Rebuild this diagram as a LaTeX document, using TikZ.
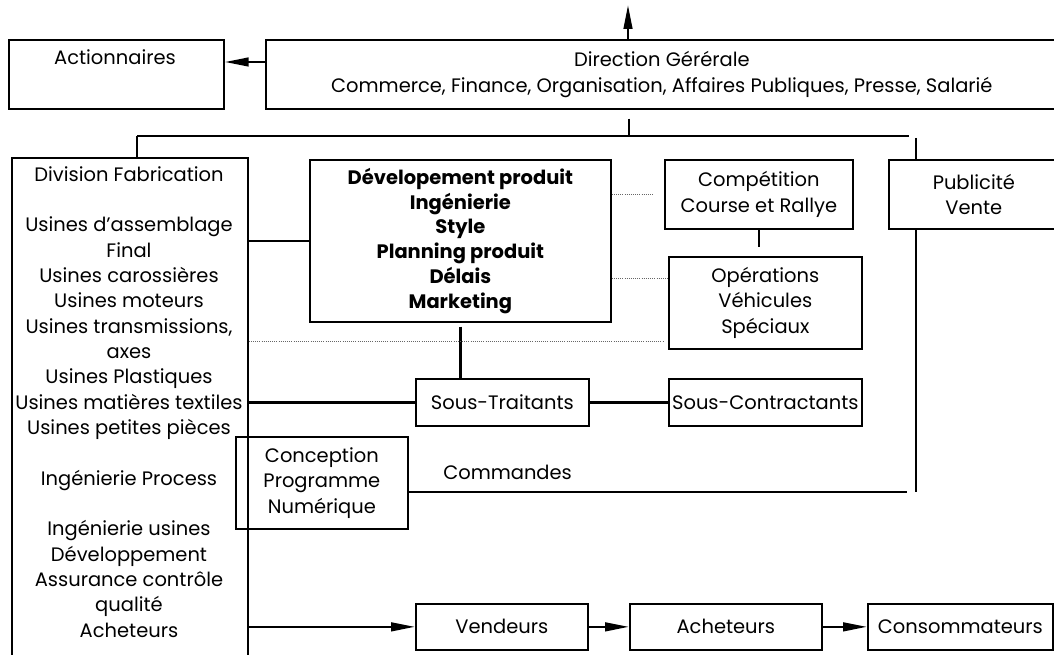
\documentclass[tikz,border=0pt]{standalone}
\usepackage{fontspec}
\setmainfont{Poppins}
\usetikzlibrary{arrows.meta}

\tikzset{
  box/.style={draw, line width=1.3pt, inner sep=0pt, align=center, anchor=north west},
  sz/.style 2 args={minimum width=#1*0.75pt, minimum height=#2*0.75pt},
  wire/.style={line width=1.8pt},
  dots/.style={densely dotted, line width=0.6pt, black!60},
  arr/.style={-{Triangle[length=18pt,width=6.5pt]}}
}

\begin{document}
\begin{tikzpicture}[x=0.75pt, y=-0.75pt, font=\fontsize{14.6}{19}\selectfont]
\useasboundingbox (0,0) rectangle (1054,655);

\node[box, sz={215}{69}] (act) at (8,39) {};
\node (acttxt) at (115,57) {Actionnaires};
\node[box, sz={792}{69}] (dg) at (265,39) {Direction Gérérale\\Commerce, Finance, Organisation, Affaires Publiques, Presse, Salarié};
\node[box, sz={236}{520}] (div) at (11,157) {};
\node[align=center, anchor=north, inner sep=0pt] (divtxt) at (129,166) {Division Fabrication\\[19pt]Usines d'assemblage\\Final\\Usines carossières\\Usines moteurs\\Usines transmissions,\\axes\\Usines Plastiques\\Usines matières textiles\\Usines petites pièces\\[19pt]Ingénierie Process\\[19pt]Ingénierie usines\\Développement\\Assurance contrôle\\qualité\\Acheteurs};
\node[box, sz={301}{162}, font=\fontsize{14.6}{18.6}\selectfont\bfseries] (dev) at (309,159) {Dévelopement produit\\Ingénierie\\Style\\Planning produit\\Délais\\Marketing};
\node[box, sz={188}{69}] (comp) at (664,159) {Compétition\\Course et Rallye};
\node[box, sz={193}{92}] (ops) at (668,256) {Opérations\\Véhicules\\Spéciaux};
\node[box, sz={170}{69}] (pub) at (888,159) {Publicité\\Vente};
\node[box, sz={173}{47}] (sout) at (415,378) {Sous-Traitants};
\node[box, sz={193}{47}] (souc) at (668,378) {Sous-Contractants};
\node[box, sz={172}{92}] (conc) at (235,436) {Conception\\Programme\\Numérique};
\node[anchor=west, inner sep=0pt] (cmd) at (443,472) {Commandes};
\node[box, sz={172}{46}] (vend) at (415,603) {Vendeurs};
\node[box, sz={192}{46}] (ach) at (629,603) {Acheteurs};
\node[box, sz={185}{46}] (cons) at (867,603) {Consommateurs};

\coordinate (up) at (628,5);
\coordinate (a1) at (265,62);
\coordinate (hub) at (629,136);
\coordinate (lft) at (137,136);
\coordinate (rgt) at (909,136);
\coordinate (pubtop) at (916,136);
\coordinate (stub) at (754,247);
\coordinate (d2) at (668,278);
\coordinate (d3) at (663,341);
\coordinate (cmdend) at (916,492);

\draw[wire, arr] (dg.north -| up) -- (up);
\draw[wire, arr] (a1) -- (act.east |- a1);
\draw[wire, shorten <=6.75pt] (dg.south -| hub) -- (hub);
\draw[wire] (lft) -- (rgt);
\draw[wire] (lft) -- (div.north -| lft);
\draw[wire, shorten <=1.5pt] (pubtop) -- (pub.north -| pubtop);
\draw[wire] (pub.south -| pubtop) -- (cmdend);
\draw[wire, shorten >=6.75pt] (conc.east |- cmdend) -- (cmdend);
\draw[wire] (dev.west -| div.east) -- (dev.west);
\draw[wire] (sout.west -| div.east) -- (sout.west);
\draw[wire] (sout.east) -- (souc.west);
\draw[wire, shorten <=3pt] (dev.south) -- (dev.south |- sout.north);
\draw[wire] (comp.south) -- (comp.south |- stub);
\draw[dots] (dev.east |- comp.west) -- ([xshift=-8pt]comp.west);
\draw[dots] (dev.east |- d2) -- (d2);
\draw[dots] (div.east |- d3) -- (d3);
\draw[wire, arr] (vend.west -| div.east) -- (vend.west);
\draw[wire, arr] (vend.east) -- (ach.west);
\draw[wire, arr] (ach.east) -- (cons.west);
\end{tikzpicture}
\end{document}
